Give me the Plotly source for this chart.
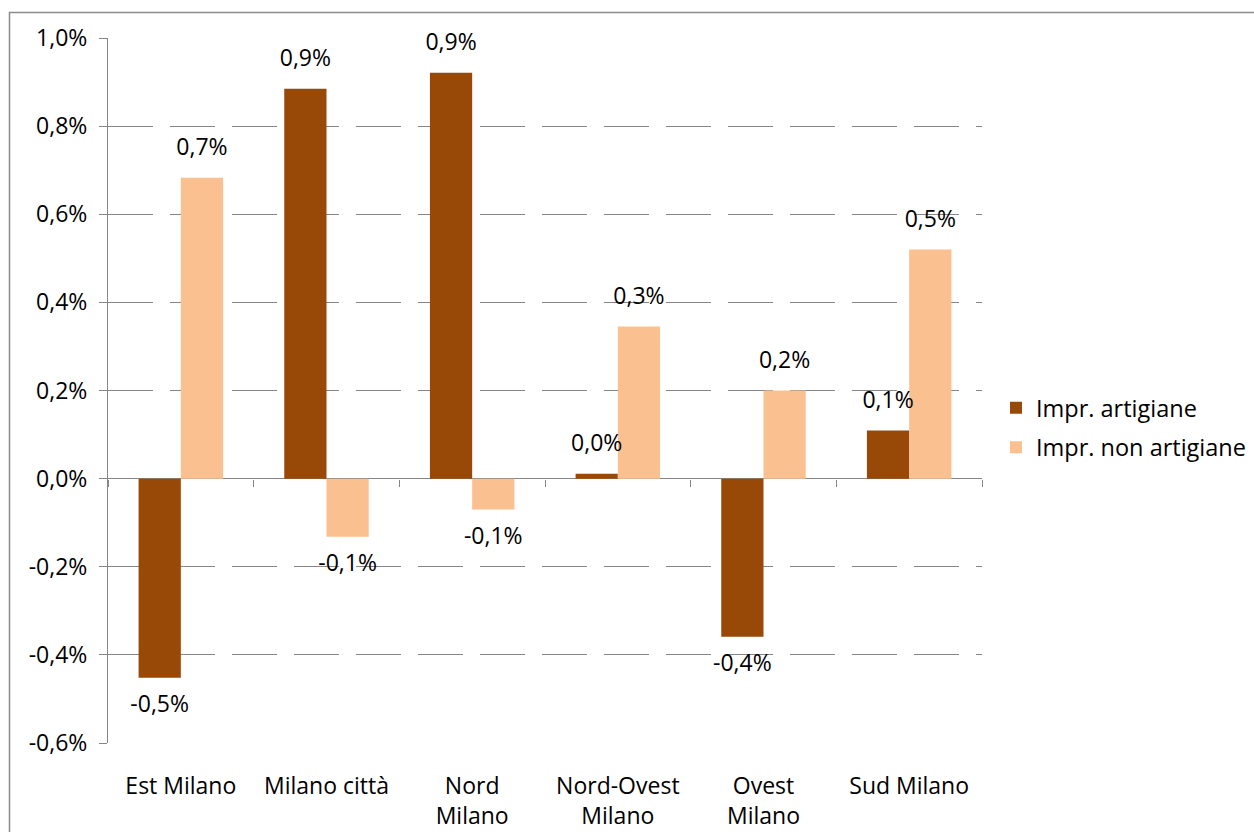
import plotly.graph_objects as go

categories = ["Est Milano", "Milano città", "Nord<br>Milano", "Nord-Ovest<br>Milano", "Ovest<br>Milano", "Sud Milano"]
artigiane = [-0.00452, 0.00885, 0.00921, 0.00011, -0.00359, 0.00109]
non_artigiane = [0.00683, -0.00132, -0.00070, 0.00345, 0.00200, 0.00520]
series_names = ["Impr. artigiane", "Impr. non artigiane"]
series_colors = ["#984807", "#FAC090"]
y_ticks = [-0.006, -0.004, -0.002, 0.0, 0.002, 0.004, 0.006, 0.008, 0.010]


def pct(v):
    return f"{v * 100:.1f}%".replace(".", ",")


FONT = "Open Sans"
GRID = "#868686"

fig = go.Figure()
for i, (name, vals, col) in enumerate(zip(series_names, [artigiane, non_artigiane], series_colors)):
    grp = f"g{i}"
    fig.add_trace(go.Bar(
        x=categories, y=vals, name=name, offsetgroup=grp, alignmentgroup="all",
        legendgroup=grp,
        marker=dict(color=col, line=dict(width=0)),
    ))
    fig.add_trace(go.Scatter(
        x=categories, y=vals, offsetgroup=grp, alignmentgroup="all",
        mode="markers+text", showlegend=False, hoverinfo="skip", legendgroup=grp,
        marker=dict(size=26, opacity=0),
        text=[pct(v) for v in vals],
        textposition=["top center" if v >= 0 else "bottom center" for v in vals],
        textfont=dict(family=FONT, size=23, color="#000"),
        cliponaxis=False,
    ))

# helper trace for the category-boundary ticks on the zero line
fig.add_trace(go.Scatter(
    x=categories, y=[None] * len(categories), xaxis="x2",
    showlegend=False, hoverinfo="skip", mode="markers",
))

W, H = 1254, 832
L, R, T, B = 108, 982, 38, 743

fig.update_layout(
    width=W, height=H,
    margin=dict(l=L, r=W - R, t=T, b=H - B, pad=0, autoexpand=False),
    paper_bgcolor="white", plot_bgcolor="white",
    separators=",.",
    barmode="group", bargap=0.42, bargroupgap=0,
    scattermode="group", scattergap=0.42,
    font=dict(family=FONT, size=23, color="#000"),
    showlegend=True,
    legend=dict(
        x=1.016, y=0.447, xanchor="left", yanchor="middle",
        font=dict(family=FONT, size=23.5, color="#000"),
        bgcolor="rgba(0,0,0,0)", itemwidth=30, tracegroupgap=6,
    ),
    xaxis=dict(
        type="category", range=[-0.5, 5.5], showline=False, showgrid=False,
        ticks="", tickfont=dict(family=FONT, size=23), ticklabelstandoff=27,
        zeroline=False, automargin=False,
    ),
    xaxis2=dict(
        type="category", overlaying="x", anchor="free", position=0.375,
        range=[-0.5, 5.5], showticklabels=False, showgrid=False, showline=False,
        ticks="outside", tickson="boundaries", ticklen=7, tickcolor=GRID, tickwidth=1,
        side="bottom", zeroline=False, automargin=False,
    ),
    yaxis=dict(
        range=[-0.006, 0.010], tickvals=y_ticks, ticktext=[pct(v) for v in y_ticks],
        showline=True, linecolor=GRID, linewidth=1,
        ticks="outside", ticklen=8, tickcolor=GRID,
        showgrid=True, gridcolor=GRID, gridwidth=1, griddash="45px,17px",
        zeroline=True, zerolinecolor=GRID, zerolinewidth=1,
        tickfont=dict(family=FONT, size=23), ticklabelstandoff=7, automargin=False,
    ),
    shapes=[dict(
        type="rect", xref="paper", yref="paper",
        x0=(9.5 - L) / (R - L), x1=2.0,
        y0=-1.0, y1=(B - 12.5) / (B - T),
        line=dict(color="#8c8c8c", width=1.5), fillcolor="rgba(0,0,0,0)",
        layer="below",
    )],
)

fig.write_html("out.html")
